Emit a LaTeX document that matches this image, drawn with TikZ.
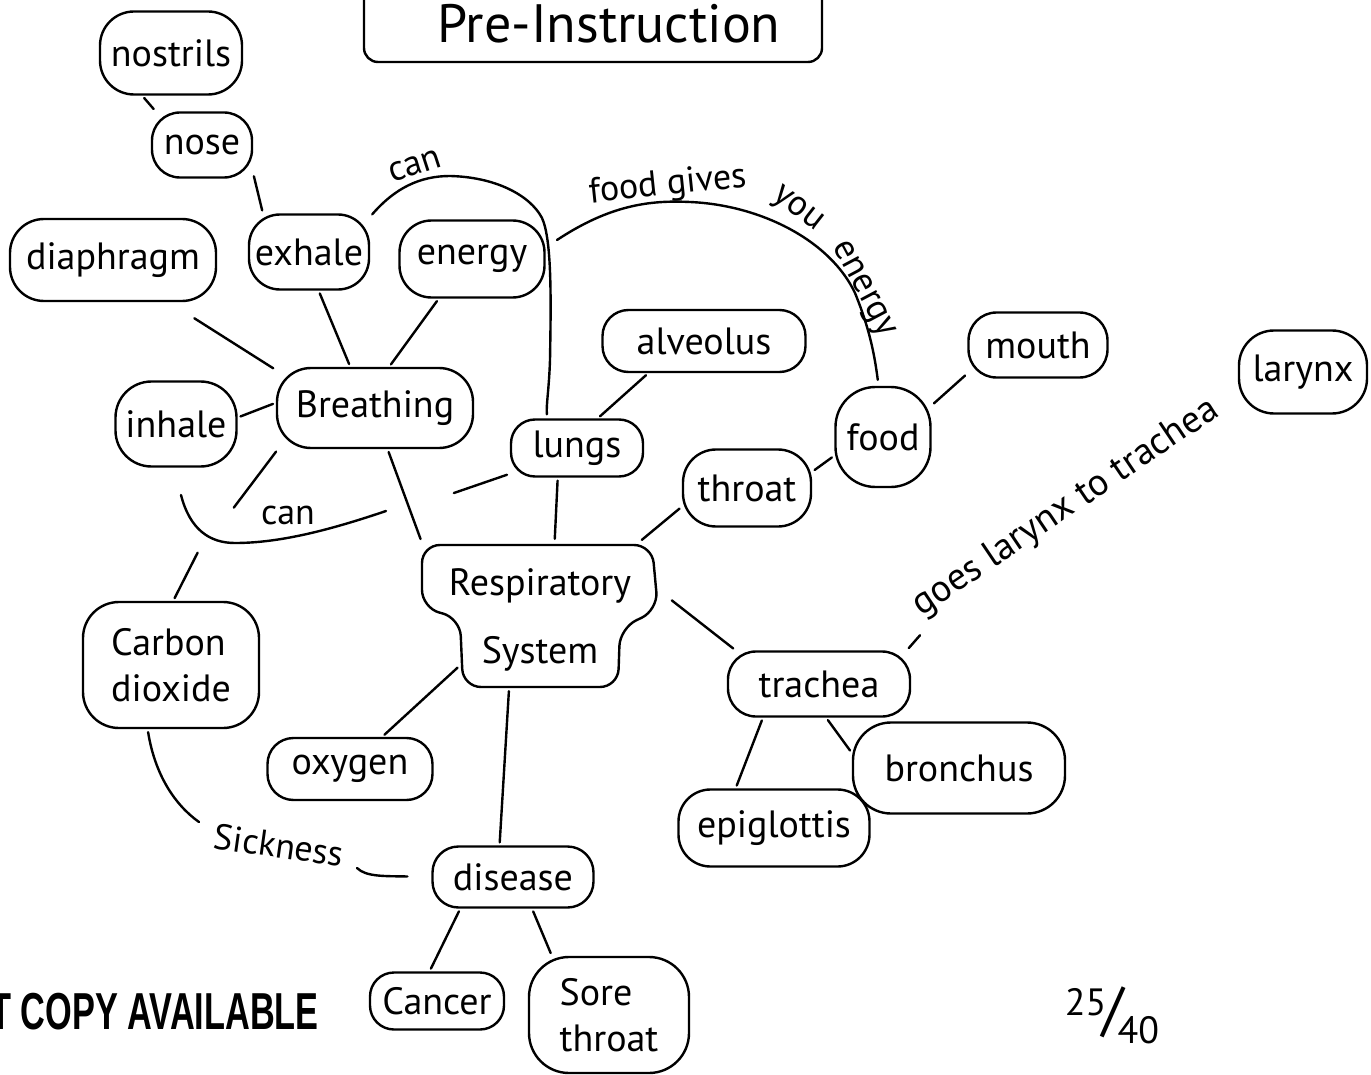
\documentclass[tikz,border=0pt]{standalone}
\usepackage{fontspec}
\setmainfont{PT Sans}
\newfontfamily\stampfont[FakeStretch=0.66]{Liberation Sans}
\newcommand\mynodefont{\fontsize{38}{44}\selectfont}
\newcommand\mylblfont{\fontsize{36}{40}\selectfont}
\begin{document}
\begin{tikzpicture}[x=1pt,y=-1pt,line width=2.4pt,line cap=round,line join=round,
  blob/.style={draw,rectangle,inner sep=0pt,font=\mynodefont},
  conn/.style={shorten <=3pt,shorten >=3pt},
  lbl/.style={inner sep=0pt,font=\mylblfont}]
\fill[white] (0,0) rectangle (1371,1075);
\useasboundingbox (0,0) rectangle (1371,1075);

% title
\draw[rounded corners=14pt] (364,-30) -- (364,62) -- (822,62) -- (822,-30);
\node[inner sep=0pt,font=\fontsize{54}{60}\selectfont] (title) at (609,24) {Pre-Instruction};

% concept nodes
\node[blob,rounded corners=34pt,minimum width=142pt,minimum height=83pt] (nostrils) at (171,53) {nostrils};
\node[blob,rounded corners=28pt,minimum width=100pt,minimum height=65pt] (nose) at (202,145) {nose};
\node[blob,rounded corners=31pt,minimum width=120pt,minimum height=75pt] (exhale) at (309,252) {exhale};
\node[blob,rounded corners=34pt,minimum width=206pt,minimum height=82pt] (diaphragm) at (113,260) {diaphragm};
\node[blob,rounded corners=32pt,minimum width=145pt,minimum height=77pt] (energy) at (472,259) {energy};
\node[blob,rounded corners=34pt,minimum width=196pt,minimum height=80pt] (breathing) at (375,408) {Breathing};
\node[blob,rounded corners=36pt,minimum width=121pt,minimum height=85pt] (inhale) at (176,424) {inhale};
\node[blob,rounded corners=26pt,minimum width=203pt,minimum height=62pt] (alveolus) at (704,341) {alveolus};
\node[blob,rounded corners=24pt,minimum width=132pt,minimum height=57pt] (lungs) at (577,448) {lungs};
\node[blob,rounded corners=28pt,minimum width=139pt,minimum height=65pt] (mouth) at (1038,345) {mouth};
\node[blob,rounded corners=35pt,minimum width=128pt,minimum height=83pt] (larynx) at (1303,372) {larynx};
\node[blob,rounded corners=40pt,minimum width=95pt,minimum height=100pt] (food) at (883,437) {food};
\node[blob,rounded corners=33pt,minimum width=128pt,minimum height=77pt] (throat) at (747,488) {throat};
\node[blob,rounded corners=36pt,minimum width=176pt,minimum height=126pt,align=left,font=\fontsize{38}{46}\selectfont] (co2) at (171,665) {Carbon\\dioxide};
\node[blob,rounded corners=28pt,minimum width=182pt,minimum height=65pt] (trachea) at (819,684) {trachea};
\node[blob,rounded corners=38pt,minimum width=212pt,minimum height=91pt] (bronchus) at (959,768) {bronchus};
\node[blob,rounded corners=32pt,minimum width=191pt,minimum height=77pt] (epiglottis) at (774,828) {epiglottis};
\node[blob,rounded corners=26pt,minimum width=165pt,minimum height=62pt] (oxygen) at (350,769) {oxygen};
\node[blob,rounded corners=26pt,minimum width=161pt,minimum height=61pt] (disease) at (513,877) {disease};
\node[blob,rounded corners=24pt,minimum width=134pt,minimum height=57pt] (cancer) at (437,1001) {Cancer};
\node[blob,rounded corners=40pt,minimum width=160pt,minimum height=116pt,align=left,font=\fontsize{38}{46}\selectfont] (sore) at (609,1015) {Sore\\throat};

% Respiratory System (irregular outline)
\draw[rounded corners=18pt] (540,545) -- (652,545) -- (658,610) -- (620,628) -- (618,687) -- (463,687) -- (460,618) -- (422,608) -- (422,545) -- cycle;
\node[inner sep=0pt,minimum width=236pt,minimum height=70pt] (respU) at (540,578) {};
\node[inner sep=0pt,minimum width=158pt,minimum height=74pt] (respL) at (540,650) {};
\node[inner sep=0pt,align=center,font=\fontsize{38}{68}\selectfont] (resp) at (540,620) {Respiratory\\System};

% free ends
\coordinate (canA) at (232,510);
\coordinate (lungsEnd) at (451,494);
\coordinate (co2top) at (199,550);
\coordinate (goesEnd) at (922,633);
\coordinate (fgStart) at (557,240);
\coordinate (inhA) at (181,495);
\coordinate (inhB) at (386,511);
\coordinate (sickA) at (199,822);
\coordinate (sickB) at (357,868);

% straight connectors
\draw[conn] (nostrils.-124) -- (nose.144);
\draw[conn] (nose.-29) -- (exhale.140);
\draw[conn] (exhale.-76) -- (breathing.121);
\draw[conn] (energy.-130) -- (breathing.71);
\draw[conn,shorten <=30pt] (diaphragm.-37) -- (breathing.159);
\draw[conn] (inhale.6) -- (breathing.177);
\draw[conn] (breathing.-157) -- (canA);
\draw[conn] (breathing.-73) -- (respU.163);
\draw[conn] (lungs.-123) -- (respU.68);
\draw[conn] (lungs.-159) -- (lungsEnd);
\draw[conn] (alveolus.-150) -- (lungs.55);
\draw[conn] (food.33) -- (mouth.-158);
\draw[conn] (throat.14) -- (food.-159);
\draw[conn] (throat.-164) -- (respU.20);
\draw[conn,shorten <=16pt] (respU.-6) -- (trachea.158);
\draw[conn] (trachea.-149) -- (epiglottis.134);
\draw[conn] (trachea.-78) -- (bronchus.172);
\draw[conn] (respL.-169) -- (oxygen.45);
\draw[conn] (respL.-129) -- (disease.113);
\draw[conn] (disease.-149) -- (cancer.104);
\draw[conn] (disease.-59) -- (sore.134);
\draw[conn] (trachea.21) -- (goesEnd);
\draw[conn] (co2.88) -- (co2top);

% curved connectors
\draw[shorten <=3pt,shorten >=4pt] (exhale.30) .. controls (395,188) and (420,176) .. (450,176)
  .. controls (495,177) and (530,195) .. (542,218)
  .. controls (552,240) and (551,300) .. (550,360)
  .. controls (549,390) and (546,405) .. (lungs.135);
\draw[shorten >=6pt] (fgStart) .. controls (610,205) and (650,200) .. (690,202)
  .. controls (760,205) and (830,240) .. (855,293)
  .. controls (868,325) and (874,350) .. (food.95);
\draw (inhA) .. controls (190,530) and (210,543) .. (235,543)
  .. controls (280,543) and (330,530) .. (inhB);
\draw[shorten <=3pt] (co2.-110) .. controls (155,775) and (175,805) .. (sickA);
\draw[shorten >=24pt] (sickB) .. controls (366,877) and (385,876) .. (disease.west);

% linking words
\node[lbl,rotate=18] (can1) at (415,166) {can};
\node[lbl] (can2) at (288,515) {can};
\node[lbl,rotate=-8] (sick) at (279,845) {Sickness};
\node[lbl,rotate=6] (fg) at (668,186) {food gives};
\node[lbl,rotate=-38] (you) at (797,210) {you};
\node[lbl,rotate=-62] (en) at (862,290) {energy};
\node[lbl,rotate=34,font=\fontsize{38}{40}\selectfont] (goes) at (1066,508) {goes larynx to trachea};

% stamp and score
\node[anchor=east,inner sep=0pt,font=\stampfont\bfseries\fontsize{52}{52}\selectfont] (stamp) at (320,1012) {T COPY AVAILABLE};
\node[inner sep=0pt] (score) at (1112,1015) {\raisebox{14pt}{\fontsize{38}{38}\selectfont 25}\kern-4pt{\fontsize{60}{60}\selectfont /}\kern-6pt\raisebox{-14pt}{\fontsize{38}{38}\selectfont 40}};
\end{tikzpicture}
\end{document}
